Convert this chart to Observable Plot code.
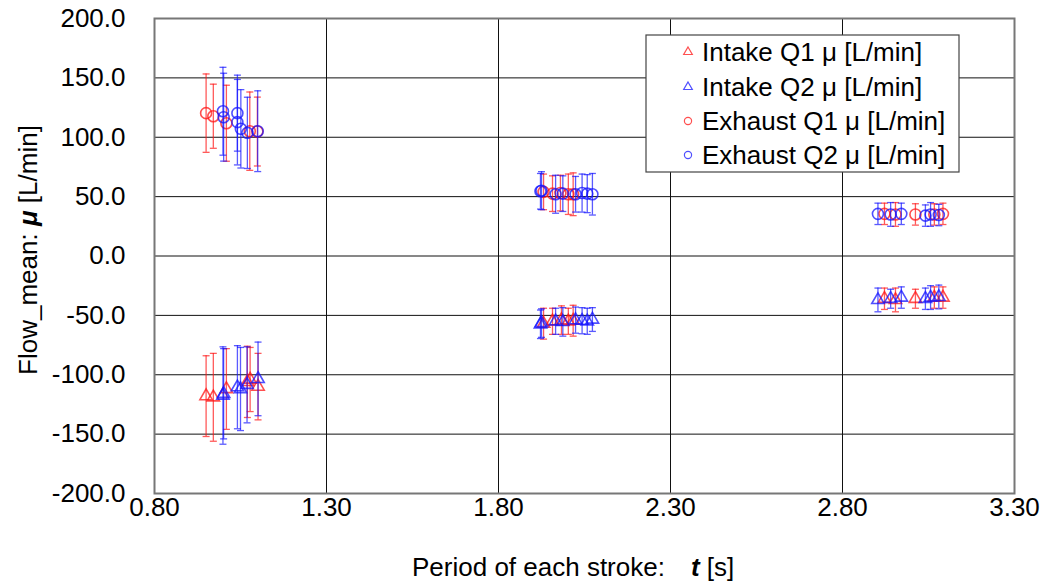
<!DOCTYPE html>
<html>
<head>
<meta charset="utf-8">
<script src="https://cdn.jsdelivr.net/npm/d3@7"></script>
<script src="https://cdn.jsdelivr.net/npm/@observablehq/plot@0.6"></script>
<style>
  html, body { margin: 0; padding: 0; background: #fff; }
</style>
</head>
<body>
<div id="chart"></div>
<script>
// ---- tick values ----
const xTicks = [0.8, 1.3, 1.8, 2.3, 2.8, 3.3];
const yTicks = [-200, -150, -100, -50, 0, 50, 100, 150, 200];

// ---- series names ----
const seriesNames = ["Intake Q1 μ [L/min]", "Intake Q2 μ [L/min]", "Exhaust Q1 μ [L/min]", "Exhaust Q2 μ [L/min]"];

// ---- Intake Q1 (red triangles) ----
const intakeQ1_t    = [0.950, 0.971, 1.009, 1.070, 1.078, 1.101, 1.931, 1.957, 1.983, 2.003, 2.017, 2.922, 2.954, 3.012, 3.067, 3.092];
const intakeQ1_mean = [-118, -119, -112, -106, -104, -110, -57, -55, -54, -55, -54.5, -36, -37, -36, -35, -35];
const intakeQ1_sd   = [34, 37, 34, 30, 27, 28, 13, 11, 12, 11, 13, 9, 10, 8, 9, 9];

// ---- Intake Q2 (blue triangles) ----
const intakeQ2_t    = [0.999, 1.001, 1.041, 1.050, 1.069, 1.101, 1.922, 1.925, 1.966, 1.987, 2.024, 2.043, 2.058, 2.073, 2.903, 2.940, 2.971, 3.041, 3.056, 3.080];
const intakeQ2_mean = [-117.5, -116, -110.5, -112, -108.5, -103.5, -57.5, -56.5, -55, -55.5, -54, -54.5, -55, -53.5, -37, -36, -35, -36, -35, -34.5];
const intakeQ2_sd   = [41, 38, 35, 35, 32, 31, 12, 12, 11, 12, 11, 11, 11, 10, 10, 8, 9, 9, 10, 10];

// ---- Exhaust Q1 (red circles) ----
const exhaustQ1_t    = [0.950, 0.971, 1.009, 1.077, 1.099, 1.931, 1.957, 1.980, 2.003, 2.017, 2.922, 2.954, 3.012, 3.067, 3.092];
const exhaustQ1_mean = [120.3, 117.7, 111.8, 105.1, 104.8, 54, 52.5, 53, 52, 52, 35.5, 35, 35, 35, 35.5];
const exhaustQ1_sd   = [33, 27, 32, 33, 29, 15, 15, 15, 17, 18, 9, 10, 9, 9, 9];

// ---- Exhaust Q2 (blue circles) ----
const exhaustQ2_t    = [0.999, 1.001, 1.041, 1.041, 1.051, 1.070, 1.100, 1.922, 1.925, 1.966, 1.987, 2.024, 2.043, 2.058, 2.073, 2.903, 2.940, 2.971, 3.041, 3.056, 3.080];
const exhaustQ2_mean = [121.9, 116.9, 120.3, 112.7, 107.1, 103.7, 105.1, 54.5, 55, 52, 52.5, 52, 53, 52.5, 52, 35.5, 35, 35.5, 34, 35, 34.5];
const exhaustQ2_sd   = [37, 37, 32, 36, 33, 30, 34, 15, 16, 16, 15, 15, 16, 16, 17.5, 9, 10, 9, 9, 10, 9];

const RED = "#ff1414", BLUE = "#1414ff";
const series = [
  {name: seriesNames[0], t: intakeQ1_t, m: intakeQ1_mean, s: intakeQ1_sd, color: RED, symbol: "triangle"},
  {name: seriesNames[1], t: intakeQ2_t, m: intakeQ2_mean, s: intakeQ2_sd, color: BLUE, symbol: "triangle"},
  {name: seriesNames[2], t: exhaustQ1_t, m: exhaustQ1_mean, s: exhaustQ1_sd, color: RED, symbol: "circle"},
  {name: seriesNames[3], t: exhaustQ2_t, m: exhaustQ2_mean, s: exhaustQ2_sd, color: BLUE, symbol: "circle"}
];

const capSymbol = {
  draw(context, size) {
    const w = Math.sqrt(size / Math.PI);
    context.moveTo(-w, 0);
    context.lineTo(w, 0);
  }
};

const FONT = "'Liberation Sans', Arial, sans-serif";
const FS = 26;

const marks = [
  Plot.gridX(xTicks, {stroke: "#111", strokeOpacity: 1, strokeWidth: 1}),
  Plot.gridY(yTicks, {stroke: "#111", strokeOpacity: 1, strokeWidth: 1}),
];
for (const s of series) {
  const rows = s.t.map((t, i) => ({t, mean: s.m[i], sd: s.s[i]}));
  marks.push(
    Plot.ruleX(rows, {x: "t", y1: d => d.mean - d.sd, y2: d => d.mean + d.sd, stroke: s.color, strokeOpacity: 0.7, strokeWidth: 1.3}),
    Plot.dot(rows, {x: "t", y: d => d.mean + d.sd, symbol: capSymbol, r: 3.5, stroke: s.color, strokeOpacity: 0.7, strokeWidth: 1.3}),
    Plot.dot(rows, {x: "t", y: d => d.mean - d.sd, symbol: capSymbol, r: 3.5, stroke: s.color, strokeOpacity: 0.7, strokeWidth: 1.3}),
    Plot.dot(rows, {x: "t", y: "mean", symbol: s.symbol, r: s.symbol === "circle" ? 5.5 : 4.6, stroke: s.color, strokeOpacity: 0.75, strokeWidth: 1.6, fill: "none"})
  );
}
marks.push(Plot.frame({stroke: "#777", strokeWidth: 2}));

const chart = Plot.plot({
  width: 1040,
  height: 583,
  marginLeft: 154,
  marginRight: 26,
  marginTop: 18,
  marginBottom: 90,
  style: {fontFamily: FONT, fontSize: FS + "px", background: "#fff", color: "#000"},
  x: {domain: [0.8, 3.3], ticks: xTicks, tickFormat: d => d.toFixed(2), tickSize: 0, tickPadding: 4, label: null},
  y: {domain: [-200, 200], ticks: yTicks, tickFormat: d => d.toFixed(1), tickSize: 0, tickPadding: 29, label: null},
  marks
});

const svg = d3.select(chart);

// axis labels with mixed styling
const xl = svg.append("text")
  .attr("x", 412).attr("y", 576)
  .attr("text-anchor", "start")
  .attr("font-family", FONT).attr("font-size", FS).attr("fill", "#000");
xl.append("tspan").text("Period of each stroke:");
xl.append("tspan").attr("dx", 26).attr("font-weight", "bold").attr("font-style", "italic").text("t");
xl.append("tspan").text(" [s]");

const yl = svg.append("text")
  .attr("transform", "translate(37,250) rotate(-90)")
  .attr("text-anchor", "middle")
  .attr("font-family", FONT).attr("font-size", FS).attr("fill", "#000");
yl.append("tspan").text("Flow_mean: ");
yl.append("tspan").attr("font-weight", "bold").attr("font-style", "italic").text("μ");
yl.append("tspan").text(" [L/min]");

// legend
const lg = svg.append("g");
lg.append("rect").attr("x", 646).attr("y", 35).attr("width", 313).attr("height", 137)
  .attr("fill", "#fff").attr("stroke", "#444").attr("stroke-width", 1.2);
const rowY = [52, 87, 121, 155];
series.forEach((s, i) => {
  const sym = d3.symbol().type(s.symbol === "circle" ? d3.symbolCircle : d3.symbolTriangle)
    .size(s.symbol === "circle" ? Math.PI * 3.6 * 3.6 : Math.PI * 3.2 * 3.2);
  lg.append("path").attr("d", sym()).attr("transform", `translate(688,${rowY[i]})`)
    .attr("fill", "none").attr("stroke", s.color).attr("stroke-opacity", 0.75).attr("stroke-width", 1.2);
  lg.append("text").attr("x", 702).attr("y", rowY[i]).attr("dy", "0.35em")
    .attr("text-anchor", "start")
    .attr("font-family", FONT).attr("font-size", FS).attr("fill", "#000").text(s.name);
});

document.getElementById("chart").appendChild(chart);
</script>
</body>
</html>
